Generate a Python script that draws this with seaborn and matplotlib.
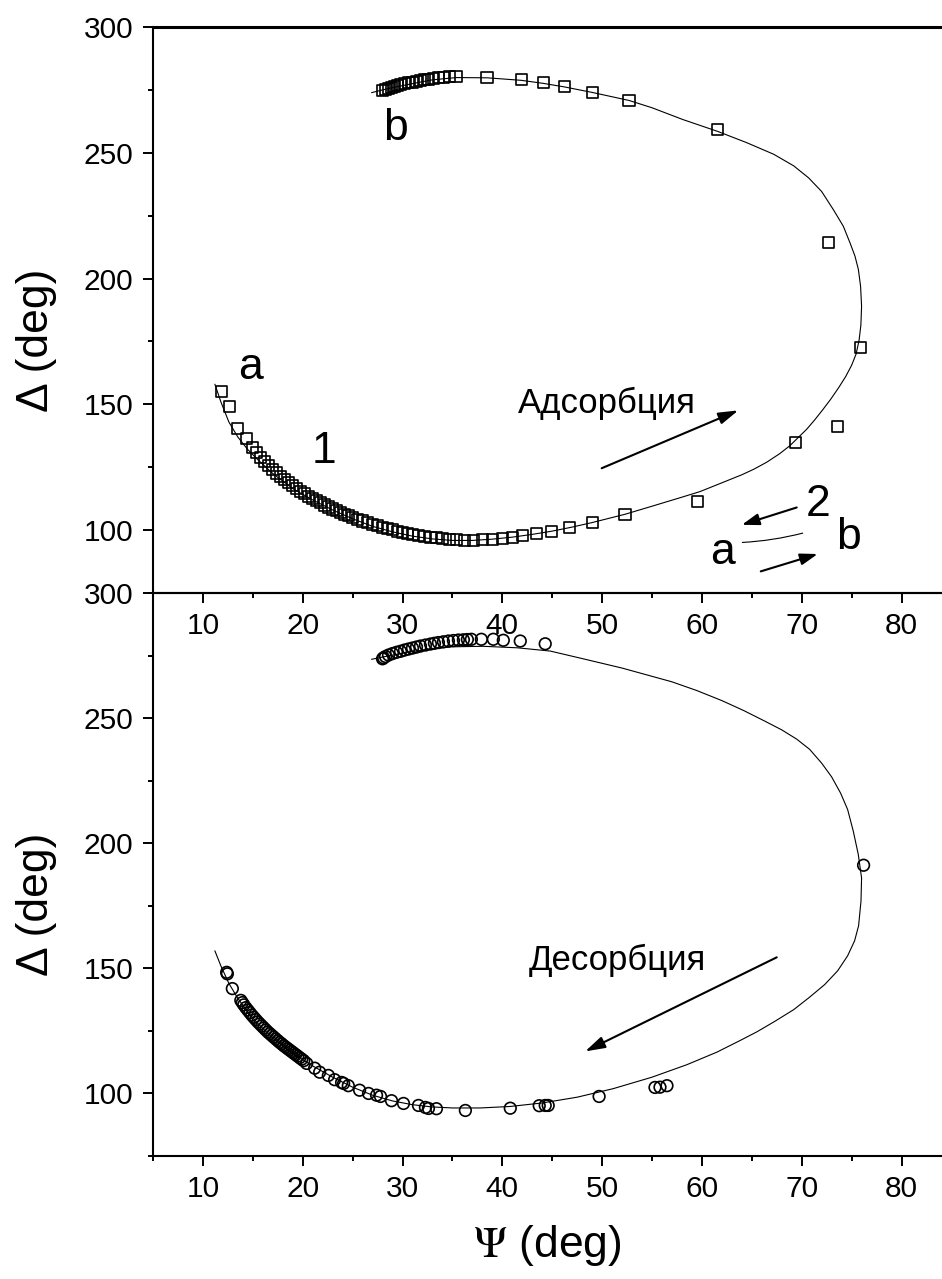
import matplotlib
matplotlib.use("Agg")
import matplotlib.pyplot as plt
import seaborn as sns
from matplotlib.ticker import MultipleLocator

# ---------------- data ----------------
# Panel 1 (adsorption) experimental points
top_psi = [11.9, 12.7, 13.45, 14.4,
           15.0, 15.4, 15.8, 16.2, 16.6, 17.0, 17.4, 17.8, 18.2, 18.6, 19.0, 19.4, 19.8,
           20.2, 20.6, 21.0, 21.4, 21.8, 22.2, 22.6, 23.0, 23.4, 23.8, 24.2, 24.6, 25.0,
           25.5, 26.0, 26.5, 27.0, 27.5, 28.0, 28.5, 29.0, 29.5, 30.0, 30.5, 31.0,
           31.6, 32.2, 32.8, 33.4, 34.0,
           34.7, 35.4, 36.2, 37.1, 38.0, 39.0, 40.0, 41.0,
           42.05, 43.45, 44.9, 46.7, 49.05, 52.3, 59.6, 69.4, 73.6, 75.9, 72.7, 61.6,
           52.7, 49.06, 46.2, 44.1, 41.9, 38.47, 35.36,
           34.7, 34.1, 33.6, 33.1, 32.6, 32.2, 31.8, 31.4, 31.0, 30.6, 30.2, 29.8,
           29.5, 29.2, 28.9, 28.6, 28.3, 27.97]
top_delta = [155.2, 149.2, 140.4, 136.4,
             132.8, 130.8, 129.0, 127.3, 125.7, 124.1, 122.7, 121.3, 120.0, 118.8, 117.6, 116.5, 115.4,
             114.4, 113.4, 112.5, 111.6, 110.8, 110.0, 109.2, 108.4, 107.7, 107.0, 106.3, 105.7, 105.1,
             104.3, 103.6, 102.9, 102.3, 101.7, 101.1, 100.6, 100.1, 99.6, 99.2, 98.8, 98.4,
             98.0, 97.6, 97.2, 96.9, 96.6,
             96.3, 96.1, 96.0, 96.0, 96.1, 96.3, 96.7, 97.2,
             97.7, 98.8, 99.5, 101.1, 103.0, 106.3, 111.4, 134.8, 141.2, 172.7, 214.2, 259.4,
             270.8, 274.1, 276.3, 277.9, 279.0, 280.0, 280.3,
             280.2, 280.0, 279.8, 279.6, 279.3, 279.0, 278.7, 278.4, 278.1, 277.8, 277.4, 277.0,
             276.7, 276.3, 276.0, 275.6, 275.2, 274.6]

# Panel 1 model curve
top_fit_psi = [11.2, 11.8, 12.6, 13.5, 14.5, 15.5, 17.0, 19.0, 21.0, 23.0, 25.0, 27.0, 29.0,
               31.0, 33.0, 35.0, 37.0, 39.0, 41.0, 43.0, 45.0, 47.0, 49.0, 52.3, 55.0, 58.0,
               59.8, 62.0, 64.0, 65.2, 66.5, 67.8, 68.8, 69.7, 70.5, 71.3, 72.1, 72.9, 73.7,
               74.4, 75.0, 75.45, 75.75, 75.93, 76.0, 75.9, 75.68, 75.34, 74.84, 74.17, 73.17,
               72.0, 70.7, 69.2, 67.2, 64.5, 61.58, 58.1, 55.0, 52.7, 49.0, 46.2, 44.1,
               41.9, 38.5, 35.4, 33.0, 31.4, 29.5, 28.0, 26.9]
top_fit_delta = [158.0, 151.0, 143.0, 137.0, 132.0, 128.0, 122.5, 116.5, 112.0, 108.0, 104.5,
                 101.5, 99.3, 97.6, 96.5, 95.9, 95.9, 96.4, 97.2, 98.3, 99.6, 101.2, 103.0,
                 106.3, 109.5, 113.1, 115.3, 118.8, 122.0, 124.2, 127.0, 130.4, 133.5, 137.0,
                 140.1, 143.8, 147.8, 152.0, 156.6, 161.0, 165.5, 170.0, 175.5, 181.5, 189.0,
                 196.9, 203.6, 208.9, 214.2, 220.8, 227.4, 234.6, 240.0, 244.8, 249.4, 254.0,
                 258.5, 263.2, 267.9, 270.8, 274.0, 276.2, 277.6, 278.8, 279.8, 279.9, 279.0,
                 277.8, 276.3, 275.0, 273.9]

# Panel 2 (desorption) experimental points
bot_psi = [12.38, 12.45, 12.95, 13.8, 13.95, 14.1, 14.3, 14.5, 14.7, 14.9, 15.1, 15.3, 15.5,
           15.7, 15.9, 16.1, 16.3, 16.5, 16.7, 16.9, 17.1, 17.3, 17.5, 17.7, 17.9, 18.1, 18.3,
           18.5, 18.7, 18.9, 19.1, 19.3, 19.5, 19.7, 19.9, 20.1, 20.4, 21.2, 21.7, 22.57, 23.2,
           23.9, 24.1, 24.57, 25.7, 26.6, 27.4, 27.8, 28.9, 30.1, 31.6, 32.3, 32.6, 33.4, 36.3,
           40.8, 43.7, 44.3, 44.6, 49.7, 55.3, 55.8, 56.5, 76.2,
           44.3, 41.8, 40.1, 39.1, 37.9, 36.9, 36.5, 36.1, 35.6, 35.1, 34.6, 34.1, 33.6, 33.2,
           32.8, 32.3, 31.8, 31.4, 31.0, 30.6, 30.2, 29.8, 29.4, 29.0, 28.6, 28.3, 28.1, 28.0]
bot_delta = [148.4, 147.8, 141.9, 137.2, 136.3, 135.4, 134.3, 133.3, 132.3, 131.3, 130.4, 129.5, 128.6,
             127.8, 127.0, 126.2, 125.4, 124.6, 123.9, 123.2, 122.5, 121.8, 121.1, 120.4, 119.8, 119.1, 118.5,
             117.9, 117.3, 116.7, 116.1, 115.5, 114.9, 114.3, 113.7, 113.1, 112.0, 110.1, 108.5, 107.2, 105.5,
             104.4, 104.0, 103.1, 101.3, 100.0, 99.3, 98.8, 97.1, 96.0, 95.2, 94.4, 94.0, 93.9, 93.2,
             94.1, 95.1, 95.2, 95.2, 98.8, 102.4, 102.5, 103.1, 191.2,
             279.7, 280.8, 281.1, 281.5, 281.5, 281.5, 281.4, 281.3, 281.2, 281.0, 280.8, 280.5, 280.2, 279.9,
             279.6, 279.2, 278.8, 278.4, 278.0, 277.6, 277.2, 276.7, 276.3, 275.8, 275.2, 274.6, 274.1, 273.7]

# Panel 2 model curve
bot_fit_psi = [11.2, 11.8, 12.6, 13.5, 14.5, 15.5, 17.0, 19.0, 21.0, 23.0, 25.0, 27.0, 29.0,
               31.0, 33.0, 35.0, 37.8, 40.8, 44.0, 47.5, 51.1, 55.0, 58.5, 61.5, 63.8, 65.5,
               67.3, 69.2, 70.8, 72.3, 73.6, 74.6, 75.3, 75.7, 75.94, 76.0, 75.67, 75.17, 74.6,
               73.9, 73.0, 72.0, 70.8, 69.5, 68.0, 66.3, 64.2, 62.0, 59.5, 57.0, 52.0, 48.0,
               44.8, 41.5, 38.1, 35.0, 32.5, 30.5, 28.5, 26.9]
bot_fit_delta = [157.0, 151.0, 144.0, 138.0, 132.5, 128.0, 122.0, 116.0, 111.0, 106.5, 102.5,
                 99.3, 97.0, 95.5, 94.6, 94.2, 94.2, 94.8, 96.2, 98.5, 101.9, 106.5, 111.5,
                 116.5, 121.1, 124.6, 128.8, 133.5, 138.5, 143.5, 149.0, 155.0, 161.0, 167.0,
                 176.8, 186.1, 195.5, 204.8, 213.5, 220.0, 226.5, 232.0, 237.5, 241.6, 245.3,
                 248.8, 253.0, 257.0, 261.0, 264.5, 270.0, 273.8, 276.8, 278.1, 278.7, 278.5,
                 277.5, 276.3, 274.8, 273.5]

x_ticks = [10, 20, 30, 40, 50, 60, 70, 80]
y_ticks = [100, 150, 200, 250, 300]

# ---------------- styling ----------------
sns.set_style("ticks")
plt.rcParams['font.family'] = ['Liberation Sans', 'DejaVu Sans']
plt.rcParams['mathtext.fontset'] = 'stix'
for k in ('text.color', 'axes.labelcolor', 'xtick.color', 'ytick.color', 'axes.edgecolor'):
    plt.rcParams[k] = 'black'

W, H = 942, 1279
fig = plt.figure(figsize=(W / 100, H / 100), dpi=100)
left = 153 / W
width = 1 - left
ax2 = fig.add_axes([left, 1 - 1156 / H, width, (1156 - 593) / H])
ax1 = fig.add_axes([left, 1 - 593 / H, width, (593 - 27) / H])

FS_TICK = 21.5
FS_LAB = 32

for ax in (ax1, ax2):
    ax.set_facecolor('none')
    ax.set_xlim(5, 5 + (W - 153) / 9.98)
    ax.set_ylim(75, 300)
    ax.set_xticks(x_ticks)
    ax.set_yticks(y_ticks)
    ax.xaxis.set_minor_locator(MultipleLocator(5))
    ax.yaxis.set_minor_locator(MultipleLocator(25))
    ax.tick_params(axis='both', which='major', direction='out', length=7, width=1.4,
                   labelsize=FS_TICK, pad=7, color='black', labelcolor='black')
    ax.tick_params(axis='both', which='minor', direction='out', length=3.5, width=1.4,
                   color='black')
    ax.spines['right'].set_visible(False)
    for s in ('left', 'bottom', 'top'):
        ax.spines[s].set_color('black')
        ax.spines[s].set_linewidth(1.5)
    ax.set_ylabel('Δ (deg)', fontsize=FS_LAB, color='black')
    ax.yaxis.set_label_coords(-0.122, 0.447)
ax1.spines['top'].set_linewidth(2.2)

# ---------------- panel 1 ----------------
sns.lineplot(x=top_fit_psi, y=top_fit_delta, sort=False, estimator=None,
             color='black', linewidth=0.8, ax=ax1)
sns.scatterplot(x=top_psi, y=top_delta, marker='s', s=64, facecolor='none',
                edgecolor='black', linewidth=1.2, ax=ax1, zorder=3)
ax1.set_xlabel('')

arr = dict(arrowstyle='-|>,head_length=0.8,head_width=0.24', lw=1.5, color='black',
           mutation_scale=15, shrinkA=0, shrinkB=0)
ax1.annotate('', xy=(63.65, 147.6), xytext=(49.96, 124.6), arrowprops=arr)
ax1.text(50.46, 146.7, 'Адсорбция', fontsize=25, ha='center', va='baseline', color='black')
ax1.text(14.72, 159.9, 'a', fontsize=FS_LAB, ha='center', va='baseline', color='black')
ax1.text(22.1, 126.6, '1', fontsize=FS_LAB, ha='center', va='baseline', color='black')
ax1.text(29.33, 255.2, 'b', fontsize=FS_LAB, ha='center', va='baseline', color='black')
# key "2"
ax1.text(71.67, 105.7, '2', fontsize=FS_LAB, ha='center', va='baseline', color='black')
ax1.text(62.1, 86.5, 'a', fontsize=FS_LAB, ha='center', va='baseline', color='black')
ax1.text(74.67, 92.5, 'b', fontsize=FS_LAB, ha='center', va='baseline', color='black')
arr_s = dict(arrowstyle='-|>,head_length=0.75,head_width=0.25', lw=1.5, color='black',
             mutation_scale=14, shrinkA=0, shrinkB=0)
ax1.annotate('', xy=(64.0, 102.1), xytext=(69.5, 109.0), arrowprops=arr_s)
ax1.annotate('', xy=(71.6, 90.5), xytext=(65.9, 83.6), arrowprops=arr_s)
ax1.annotate('', xy=(70.1, 98.8), xytext=(64.05, 95.1),
             arrowprops=dict(arrowstyle='-', lw=0.8, color='black',
                             connectionstyle='arc3,rad=0.05', shrinkA=0, shrinkB=0))

# ---------------- panel 2 ----------------
sns.lineplot(x=bot_fit_psi, y=bot_fit_delta, sort=False, estimator=None,
             color='black', linewidth=0.8, ax=ax2)
sns.scatterplot(x=bot_psi, y=bot_delta, marker='o', s=70, facecolor='none',
                edgecolor='black', linewidth=1.2, ax=ax2, zorder=3)
ax2.annotate('', xy=(48.3, 116.8), xytext=(67.5, 154.4), arrowprops=arr)
ax2.text(51.5, 149.5, 'Десорбция', fontsize=25, ha='center', va='baseline', color='black')
ax2.set_xlabel(r'$\Psi$ (deg)', fontsize=FS_LAB, labelpad=14, color='black')

fig.savefig('out.png', dpi=100)
